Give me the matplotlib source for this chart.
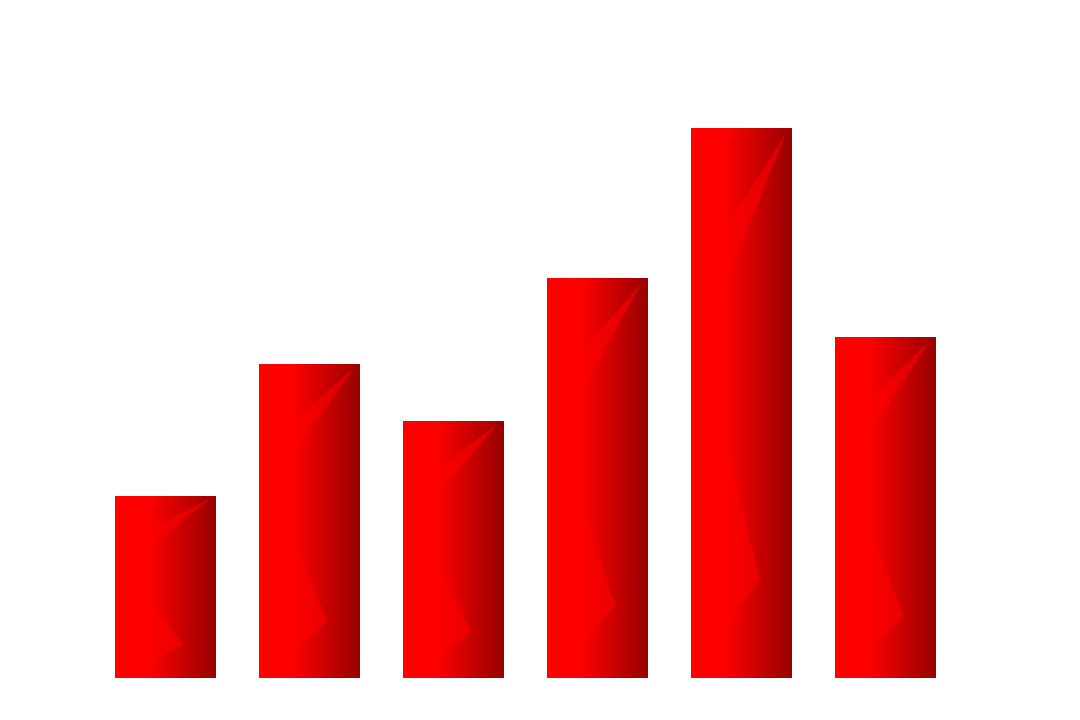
import numpy as np
import matplotlib
matplotlib.use("Agg")
import matplotlib.pyplot as plt
from matplotlib.patches import Polygon

# values (tallest bar = 30)
categories = ["A", "B", "C", "D", "E", "F"]
values = [9.9, 17.1, 14, 21.8, 30, 18.6]

bar_w = 0.7

# horizontal shading: flat red on the left, darker towards the right edge
xs = np.linspace(0, 1, 256)
shade = np.interp(xs, [0, 0.32, 1.0], [1.0, 1.0, 0.6])
grad = np.zeros((1, 256, 3))
grad[0, :, 0] = shade

# lighter sliver drawn over each bar, in bar-relative coords
sliver = [(0.94, 0.99), (0.35, 0.72), (0.37, 0.42), (0.68, 0.18),
          (0.35, 0.09), (0.0, 0.09), (0.0, 0.72)]

fig = plt.figure(figsize=(10.8, 7.2), dpi=100)
ax = fig.add_axes([0, 0, 1, 1])

for i, v in enumerate(values):
    x0 = i - bar_w / 2
    ax.imshow(grad, extent=[x0, x0 + bar_w, 0, v], aspect="auto",
              interpolation="bilinear", zorder=2)
    pts = [(x0 + px * bar_w, py * v) for px, py in sliver]
    ax.add_patch(Polygon(pts, closed=True, facecolor="#ff0000",
                         edgecolor="none", alpha=0.6, zorder=3))

ax.set_xlim(-165.5 / 144, (1080 - 165.5) / 144)
ax.set_ylim(-42 / (550 / 30), (720 - 42) / (550 / 30))
ax.axis("off")

fig.savefig("out.png", dpi=100)
